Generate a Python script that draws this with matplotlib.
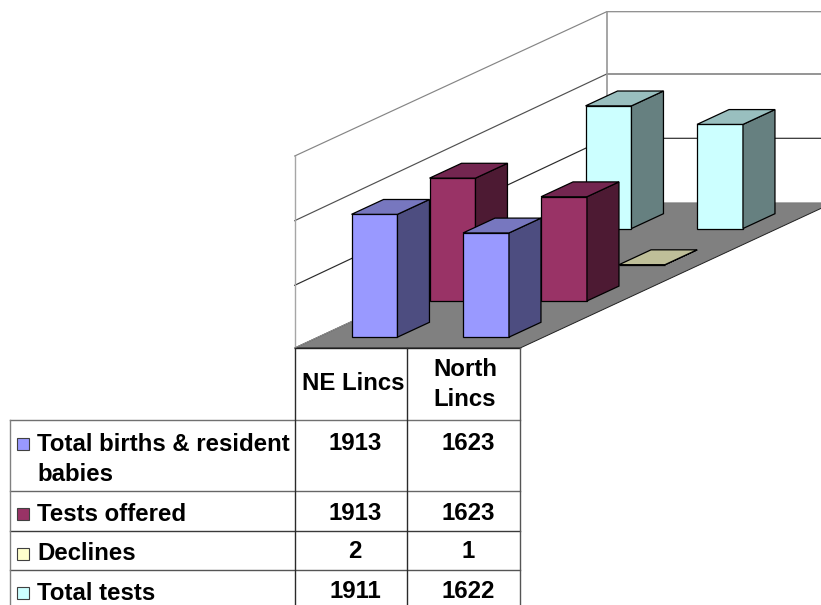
import matplotlib
matplotlib.use("Agg")
import matplotlib.pyplot as plt
from matplotlib.patches import Polygon, Rectangle

plt.rcParams["font.family"] = ["Liberation Sans", "DejaVu Sans"]

categories = ["NE Lincs", "North\nLincs"]
series_names = ["Total births & resident\nbabies", "Tests offered", "Declines", "Total tests"]
total_births = [1913, 1623]
tests_offered = [1913, 1623]
declines = [2, 1]
total_tests = [1911, 1622]
series_values = [total_births, tests_offered, declines, total_tests]
gridline_values = [0, 1000, 2000, 3000]

# (front, side, top) shades for each series
series_shades = [
    ("#9999FF", "#4D4D80", "#7777BF"),
    ("#993366", "#4D1A33", "#732650"),
    ("#FFFFCC", "#808066", "#BFBF99"),
    ("#CCFFFF", "#668080", "#99BFBF"),
]

# Oblique projection of the chart box, in figure pixels
ORIGIN_X, ORIGIN_Y = 294.7, 348.0
CATEGORY_DX = 111.5
DEPTH_DX, DEPTH_DY = 78.0, -36.2
PIXELS_PER_UNIT = 0.0642
BAR_MARGIN = 0.3
BAR_WIDTH = 0.412
BAR_DEPTH = 0.41
FLOOR_CATEGORIES = 225.5 / CATEGORY_DX


def project(cat, depth, value):
    return (ORIGIN_X + CATEGORY_DX * cat + DEPTH_DX * depth,
            ORIGIN_Y + DEPTH_DY * depth - PIXELS_PER_UNIT * value)


fig = plt.figure(figsize=(8.21, 6.05), dpi=100)
ax = fig.add_axes([0, 0, 1, 1])
ax.set_xlim(0, 821)
ax.set_ylim(605, 0)
ax.axis("off")

n_depth = len(series_names)
top_value = gridline_values[-1]
w = FLOOR_CATEGORIES

# Floor
ax.add_patch(Polygon([project(0, 0, 0), project(w, 0, 0),
                      project(w, n_depth, 0), project(0, n_depth, 0)],
                     closed=True, fc="#808080", ec="#202020", lw=0.7, zorder=1))

# Walls and gridlines; small per-line pixel offsets on the side and back walls
grid_colours = {0: "#8C8C8C", 1000: "#2A2A2A", 2000: "#505050", 3000: "#858585"}
side_nudge = {0: 0.0, 1000: 1.5, 2000: 1.1, 3000: 0.6}
back_nudge = {0: 0.0, 1000: -0.7, 2000: -0.8, 3000: 1.1}
for v in gridline_values:
    x0, y0 = project(0, 0, v)
    x1, y1 = project(0, n_depth, v)
    x2, y2 = project(w, n_depth, v)
    y0 += side_nudge[v]
    y1 += back_nudge[v]
    y2 += back_nudge[v]
    ax.plot([x0, x1, x2], [y0, y1, y2], color=grid_colours[v], lw=0.85,
            zorder=2 if v else 1.5, solid_joinstyle="miter")
for depth, nudge, shade, width in ((0, side_nudge, "#A6A6A6", 1.0),
                                   (n_depth, back_nudge, "#969696", 1.2)):
    x0, y0 = project(0, depth, 0)
    x1, y1 = project(0, depth, top_value)
    ax.plot([x0, x1], [y0, y1 + nudge[top_value]], color=shade, lw=width, zorder=2)


def draw_bar(cat, depth, value, shades, z):
    c0, c1 = cat + BAR_MARGIN, cat + BAR_MARGIN + BAR_WIDTH
    d0, d1 = depth + BAR_MARGIN, depth + BAR_MARGIN + BAR_DEPTH
    front, side, top = shades
    faces = [
        ([project(c0, d0, 0), project(c1, d0, 0), project(c1, d0, value), project(c0, d0, value)], front),
        ([project(c1, d0, 0), project(c1, d1, 0), project(c1, d1, value), project(c1, d0, value)], side),
        ([project(c0, d0, value), project(c1, d0, value), project(c1, d1, value), project(c0, d1, value)], top),
    ]
    for pts, colour in faces:
        ax.add_patch(Polygon(pts, closed=True, fc=colour, ec="black", lw=0.9,
                             joinstyle="miter", zorder=z))


# Paint back to front so nearer bars cover farther ones
for depth in reversed(range(n_depth)):
    for cat in range(len(categories)):
        draw_bar(cat, depth, series_values[depth][cat], series_shades[depth],
                 3 + (n_depth - depth))

# Data table
col_x = [10, 294.7, 407.3, 520.2]
row_y = [348.3, 420.3, 491.3, 531.3, 570.3, 605]
row_colours = ["#707070", "#666666", "#3A3A3A", "#555555"]
for y, colour in zip(row_y[1:-1], row_colours):
    ax.plot([col_x[0], col_x[-1]], [y, y], color=colour, lw=1.0, zorder=2)
ax.plot([col_x[1], col_x[-1]], [row_y[0]] * 2, color="#202020", lw=1.0, zorder=2)
ax.plot([col_x[0]] * 2, [row_y[1], row_y[-1]], color="#808080", lw=1.0, zorder=2)
for x, colour in zip(col_x[1:], ["#2A2A2A", "#2A2A2A", "#555555"]):
    ax.plot([x, x], [row_y[0], row_y[-1]], color=colour, lw=1.0, zorder=2)

FS = 17.25
header_baselines = [[390.5], [376.5, 406.5]]
header_centres = [353.5, 465]
for name, xc, baselines in zip(categories, header_centres, header_baselines):
    for line, yb in zip(name.split("\n"), baselines):
        ax.text(xc, yb, line, fontsize=FS, fontweight="bold", ha="center", va="baseline")

name_baselines = [[451, 481], [521], [560.5], [600]]
value_baselines = [449.5, 519.5, 558.5, 598]
key_tops = [438, 508, 547.5, 587]
value_centres = [355, 468]
for i, name in enumerate(series_names):
    ax.add_patch(Rectangle((16.9, key_tops[i]), 12.3, 12.3, fc=series_shades[i][0],
                           ec="#404040", lw=0.8, zorder=3))
    for line, yb in zip(name.split("\n"), name_baselines[i]):
        ax.text(37.3, yb, line, fontsize=FS, fontweight="bold", ha="left", va="baseline")
    for xc, val in zip(value_centres, series_values[i]):
        ax.text(xc, value_baselines[i], str(val), fontsize=FS, fontweight="bold",
                ha="center", va="baseline")

fig.savefig("out.png", dpi=100, facecolor="white")
